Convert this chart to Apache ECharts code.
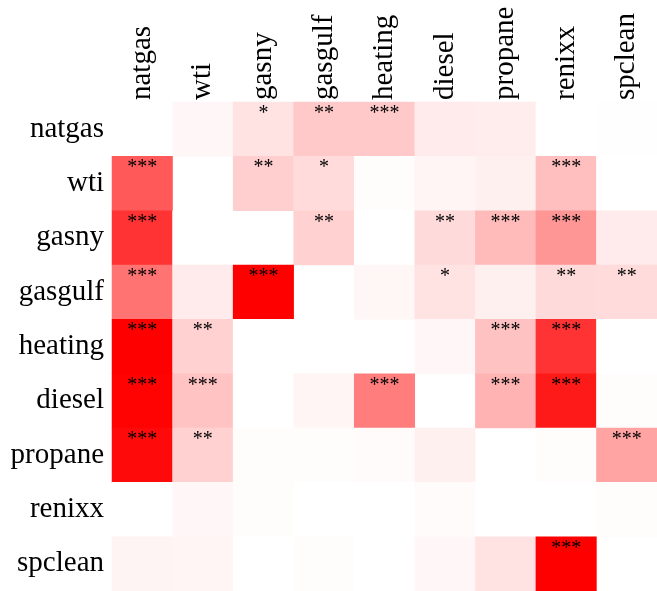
<!DOCTYPE html>
<html>
<head>
<meta charset="utf-8">
<script src="https://cdn.jsdelivr.net/npm/echarts@6/dist/echarts.min.js"></script>
<style>
  html, body { margin: 0; padding: 0; background: #ffffff; }
  #chart { width: 657px; height: 591px; }
</style>
</head>
<body>
<div id="chart"></div>
<script>
// Variable names (same order for rows and columns)
const names = ['natgas', 'wti', 'gasny', 'gasgulf', 'heating', 'diesel', 'propane', 'renixx', 'spclean'];

// Effect strength per row (row variable vs. column variable); null on the diagonal
const natgasRow  = [null, 0.03, 0.11, 0.21, 0.21, 0.08, 0.07, 0.00, 0.005];
const wtiRow     = [0.65, null, 0.19, 0.14, 0.01, 0.04, 0.06, 0.25, 0.00];
const gasnyRow   = [0.80, 0.00, null, 0.18, 0.00, 0.145, 0.27, 0.41, 0.08];
const gasgulfRow = [0.55, 0.08, 1.00, null, 0.035, 0.11, 0.06, 0.145, 0.14];
const heatingRow = [1.00, 0.18, 0.00, 0.00, null, 0.03, 0.24, 0.80, 0.00];
const dieselRow  = [0.99, 0.235, 0.00, 0.04, 0.51, null, 0.30, 0.90, 0.01];
const propaneRow = [0.96, 0.18, 0.01, 0.01, 0.015, 0.06, null, 0.01, 0.36];
const renixxRow  = [0.00, 0.03, 0.01, 0.00, 0.00, 0.015, 0.00, null, 0.01];
const spcleanRow = [0.045, 0.04, 0.00, 0.01, 0.00, 0.03, 0.11, 1.00, null];

// Significance markers per row
const natgasStars  = ['', '', '*', '**', '***', '', '', '', ''];
const wtiStars     = ['***', '', '**', '*', '', '', '', '***', ''];
const gasnyStars   = ['***', '', '', '**', '', '**', '***', '***', ''];
const gasgulfStars = ['***', '', '***', '', '', '*', '', '**', '**'];
const heatingStars = ['***', '**', '', '', '', '', '***', '***', ''];
const dieselStars  = ['***', '***', '', '', '***', '', '***', '***', ''];
const propaneStars = ['***', '**', '', '', '', '', '', '', '***'];
const renixxStars  = ['', '', '', '', '', '', '', '', ''];
const spcleanStars = ['', '', '', '', '', '', '', '***', ''];

const valueRows = [natgasRow, wtiRow, gasnyRow, gasgulfRow, heatingRow, dieselRow, propaneRow, renixxRow, spcleanRow];
const starRows = [natgasStars, wtiStars, gasnyStars, gasgulfStars, heatingStars, dieselStars, propaneStars, renixxStars, spcleanStars];

const cells = [];
valueRows.forEach((row, r) => {
  row.forEach((v, c) => {
    if (v !== null) cells.push([c, r, v]);
  });
});

const serif = 'Liberation Serif';
const chart = echarts.init(document.getElementById('chart'), null, { renderer: 'canvas' });

chart.setOption({
  animation: false,
  backgroundColor: '#ffffff',
  grid: { left: 112, top: 102, width: 548, height: 492 },
  xAxis: {
    type: 'category',
    data: names,
    position: 'top',
    axisLine: { show: false },
    axisTick: { show: false },
    splitLine: { show: false },
    axisLabel: {
      rotate: -90,
      margin: 2,
      fontSize: 29,
      fontFamily: serif,
      color: '#000000',
      interval: 0
    }
  },
  yAxis: {
    type: 'category',
    data: names,
    inverse: true,
    axisLine: { show: false },
    axisTick: { show: false },
    splitLine: { show: false },
    axisLabel: {
      margin: 8,
      fontSize: 29,
      fontFamily: serif,
      color: '#000000',
      interval: 0
    }
  },
  visualMap: {
    show: false,
    min: 0,
    max: 1,
    dimension: 2,
    inRange: { color: ['#ffffff', '#ff0000'] }
  },
  series: [{
    type: 'heatmap',
    data: cells,
    itemStyle: { borderWidth: 0 },
    emphasis: { disabled: true },
    label: {
      show: true,
      position: 'insideTop',
      distance: 2,
      fontSize: 20,
      fontFamily: serif,
      color: '#000000',
      formatter: (p) => starRows[p.value[1]][p.value[0]]
    }
  }]
});
</script>
</body>
</html>
